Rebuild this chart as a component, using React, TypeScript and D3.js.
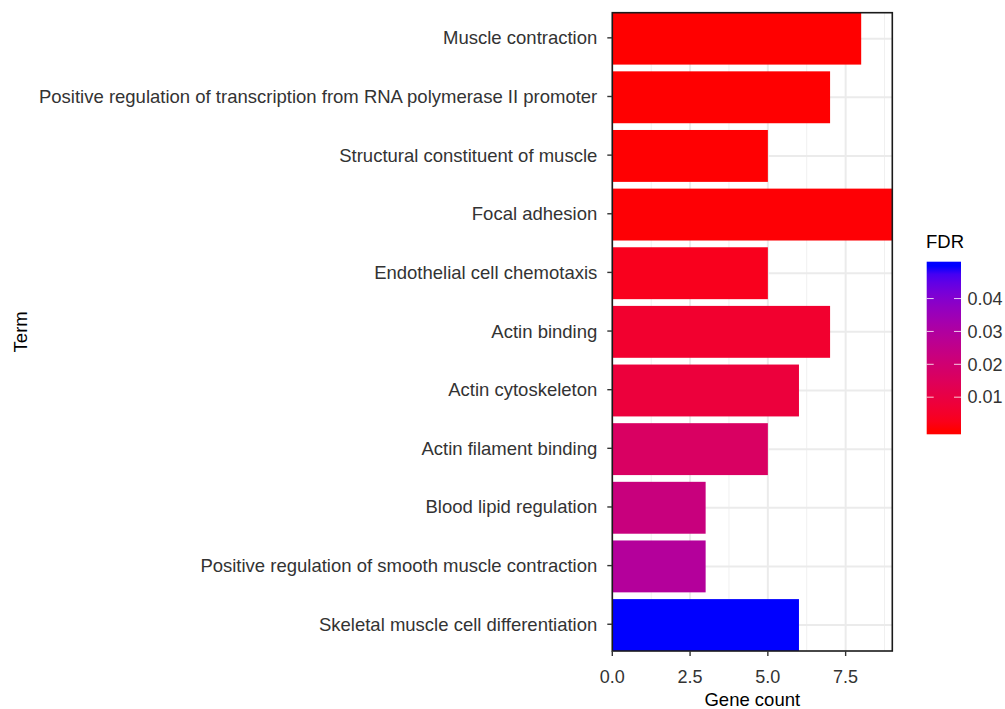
import React from "react";
import * as d3 from "d3";

// Enrichment terms, listed top to bottom
const terms = [
  "Muscle contraction",
  "Positive regulation of transcription from RNA polymerase II promoter",
  "Structural constituent of muscle",
  "Focal adhesion",
  "Endothelial cell chemotaxis",
  "Actin binding",
  "Actin cytoskeleton",
  "Actin filament binding",
  "Blood lipid regulation",
  "Positive regulation of smooth muscle contraction",
  "Skeletal muscle cell differentiation",
];

const geneCounts = [8, 7, 5, 9, 5, 7, 6, 5, 3, 3, 6];

const fdrValues = [
  0.00002, 0.0001, 0.0002, 0.0004, 0.003, 0.006, 0.0085, 0.0165, 0.0225, 0.029,
  0.0499,
];

const xTicks = [0, 2.5, 5, 7.5];
const xMinorTicks = [1.25, 3.75, 6.25, 8.75];
const legendTicks = [0.01, 0.02, 0.03, 0.04];

const W = 1005;
const H = 709;
const panel = { left: 612.3, right: 892.3, top: 12.7, bottom: 651 };
const FONT = "'Liberation Sans', Arial, Helvetica, sans-serif";
const textColor = "#333333";

export default function App() {
  const x = d3.scaleLinear().domain([0, 9]).range([panel.left, panel.right]);
  const y = d3
    .scaleBand<string>()
    .domain(terms)
    .range([panel.top, panel.bottom])
    .paddingInner(0.115)
    .paddingOuter(0);

  const fdrExtent = d3.extent(fdrValues) as [number, number];
  const color = d3
    .scaleLinear<string>()
    .domain(fdrExtent)
    .range(["red", "blue"])
    .interpolate(d3.interpolateLab);

  // colour bar geometry
  const bar = { x: 926.7, w: 34.3, top: 261.7, bottom: 434.3 };
  const barPad = (bar.bottom - bar.top) * 0.025;
  const ly = d3
    .scaleLinear()
    .domain(fdrExtent)
    .range([bar.bottom - barPad, bar.top + barPad]);

  const stops = d3.range(0, 1.0001, 0.05);

  const band = y.bandwidth();
  const centerY = (t: string) => (y(t) as number) + band / 2;

  return (
    <svg
      width={W}
      height={H}
      style={{ position: "absolute", left: 0, top: 0, background: "#fff" }}
      fontFamily={FONT}
    >
      <defs>
        <linearGradient id="fdrGrad" x1="0" y1="1" x2="0" y2="0">
          {stops.map((s) => {
            const v = fdrExtent[0] + s * (fdrExtent[1] - fdrExtent[0]);
            const off = (bar.bottom - ly(v)) / (bar.bottom - bar.top);
            return <stop key={s} offset={off} stopColor={color(v)} />;
          })}
        </linearGradient>
      </defs>
      <rect x={0} y={0} width={W} height={H} fill="#fff" />

      {/* grid */}
      {xMinorTicks.map((t) => (
        <line
          key={"mn" + t}
          x1={x(t)}
          x2={x(t)}
          y1={panel.top}
          y2={panel.bottom}
          stroke="#f0f0f0"
          strokeWidth={1}
        />
      ))}
      {xTicks.map((t) => (
        <line
          key={"mj" + t}
          x1={x(t)}
          x2={x(t)}
          y1={panel.top}
          y2={panel.bottom}
          stroke="#ebebeb"
          strokeWidth={2}
        />
      ))}
      {terms.map((t) => (
        <line
          key={"hg" + t}
          x1={panel.left}
          x2={panel.right}
          y1={centerY(t)}
          y2={centerY(t)}
          stroke="#ebebeb"
          strokeWidth={2}
        />
      ))}

      {/* bars */}
      {terms.map((t, i) => (
        <rect
          key={"b" + t}
          x={x(0)}
          y={y(t)}
          width={x(geneCounts[i]) - x(0)}
          height={band}
          fill={color(fdrValues[i])}
        />
      ))}

      {/* panel border */}
      <rect
        x={panel.left}
        y={panel.top}
        width={panel.right - panel.left}
        height={panel.bottom - panel.top}
        fill="none"
        stroke="#1a1a1a"
        strokeWidth={1.6}
      />

      {/* y axis */}
      {terms.map((t) => (
        <g key={"yt" + t}>
          <line
            x1={panel.left - 5}
            x2={panel.left}
            y1={centerY(t) - 0.8}
            y2={centerY(t) - 0.8}
            stroke="#333"
            strokeWidth={1.4}
          />
          <text
            x={panel.left - 15}
            y={centerY(t) - 0.8}
            dy="0.35em"
            textAnchor="end"
            fontSize={18.5}
            fill={textColor}
          >
            {t}
          </text>
        </g>
      ))}

      {/* x axis */}
      {xTicks.map((t) => (
        <g key={"xt" + t}>
          <line
            x1={x(t)}
            x2={x(t)}
            y1={panel.bottom}
            y2={panel.bottom + 5}
            stroke="#333"
            strokeWidth={1.4}
          />
          <text
            x={x(t)}
            y={panel.bottom + 32}
            textAnchor="middle"
            fontSize={18}
            fill={textColor}
          >
            {t.toFixed(1)}
          </text>
        </g>
      ))}

      <text
        x={(panel.left + panel.right) / 2}
        y={705.5}
        textAnchor="middle"
        fontSize={18.5}
        fill="#000"
      >
        Gene count
      </text>
      <text
        transform={`translate(27,${(panel.top + panel.bottom) / 2}) rotate(-90)`}
        textAnchor="middle"
        fontSize={18.5}
        fill="#000"
      >
        Term
      </text>

      {/* legend */}
      <text x={926} y={247.5} fontSize={18.5} fill="#000">
        FDR
      </text>
      <rect
        x={bar.x}
        y={bar.top}
        width={bar.w}
        height={bar.bottom - bar.top}
        fill="url(#fdrGrad)"
      />
      {legendTicks.map((t) => (
        <g key={"lt" + t}>
          <line
            x1={bar.x}
            x2={bar.x + 7}
            y1={ly(t)}
            y2={ly(t)}
            stroke="#fff"
            strokeOpacity={0.8}
            strokeWidth={1}
          />
          <line
            x1={bar.x + bar.w - 7}
            x2={bar.x + bar.w}
            y1={ly(t)}
            y2={ly(t)}
            stroke="#fff"
            strokeOpacity={0.8}
            strokeWidth={1}
          />
          <text
            x={bar.x + bar.w + 6.5}
            y={ly(t)}
            dy="0.35em"
            fontSize={18}
            fill={textColor}
          >
            {t.toFixed(2)}
          </text>
        </g>
      ))}
    </svg>
  );
}
